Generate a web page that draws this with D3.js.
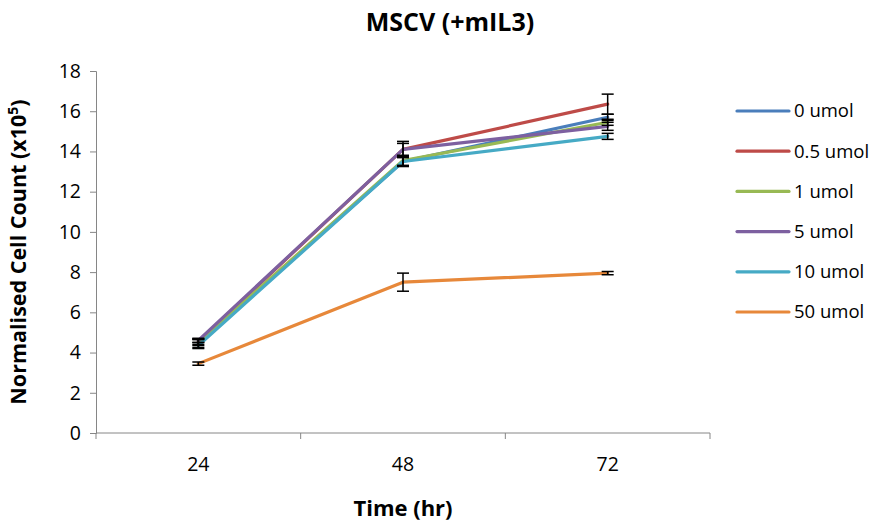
<!DOCTYPE html>
<html><head><meta charset="utf-8">
<script src="https://cdn.jsdelivr.net/npm/d3@7"></script>
<style>body{margin:0;background:#fff}text{font-family:"Open Sans","Liberation Sans",sans-serif}</style>
</head><body><svg id="c" width="894" height="527"></svg>
<script>
const categories = ["24", "48", "72"];
const seriesNames = ["0 umol", "0.5 umol", "1 umol", "5 umol", "10 umol", "50 umol"];
const values0 = [4.45, 13.5, 15.7];
const values05 = [4.55, 14.1, 16.35];
const values1 = [4.5, 13.55, 15.45];
const values5 = [4.6, 14.1, 15.25];
const values10 = [4.35, 13.5, 14.75];
const values50 = [3.45, 7.5, 7.95];
const errors0 = [0.2, 0.2, 0.15];
const errors05 = [0.15, 0.4, 0.5];
const errors1 = [0.15, 0.25, 0.15];
const errors5 = [0.1, 0.3, 0.2];
const errors10 = [0.15, 0.25, 0.15];
const errors50 = [0.08, 0.45, 0.08];
const yTicks = [0, 2, 4, 6, 8, 10, 12, 14, 16, 18];
const colors = ["#4A7EBB", "#BE4B48", "#98B954", "#7D60A0", "#46AAC5", "#E7883A"];

const series = seriesNames.map((n, i) => ({
  name: n,
  values: [values0, values05, values1, values5, values10, values50][i],
  errors: [errors0, errors05, errors1, errors5, errors10, errors50][i],
  color: colors[i]
}));

const svg = d3.select("#c");
const L = 96, R = 710, T = 71, B = 433;
const x = d3.scaleBand().domain(categories).range([L, R]);
const y = d3.scaleLinear().domain([0, 18]).range([B, T]);
const axisColor = "#868686";

// y axis
const ya = svg.append("g").attr("transform", `translate(${L},0)`)
  .call(d3.axisLeft(y).tickValues(yTicks).tickSize(6).tickPadding(9));
ya.select(".domain").attr("stroke", axisColor);
ya.selectAll(".tick line").attr("stroke", axisColor);
ya.selectAll(".tick text").attr("font-size", 19.5).attr("fill", "#000");

// x axis
const xa = svg.append("g").attr("transform", `translate(0,${B})`)
  .call(d3.axisBottom(x).tickSize(0).tickPadding(24));
xa.select(".domain").attr("stroke", axisColor).attr("d", `M${L},0H${R}`);
xa.selectAll(".tick text").attr("font-size", 19.5).attr("fill", "#000");
const bounds = categories.map(c => x(c)).concat([R]);
xa.selectAll(".bnd").data(bounds).enter().append("line")
  .attr("x1", d => d).attr("x2", d => d).attr("y1", 0).attr("y2", 6).attr("stroke", axisColor);

// lines
const line = d3.line().x((d, i) => x(categories[i]) + x.bandwidth() / 2).y(d => y(d));
series.forEach(s => {
  svg.append("path").attr("d", line(s.values)).attr("fill", "none")
    .attr("stroke", s.color).attr("stroke-width", 3.2).attr("stroke-linejoin", "round").attr("stroke-linecap", "round");
});
// error bars
series.forEach(s => {
  const g = svg.append("g").attr("stroke", "#000").attr("stroke-width", 1.5);
  s.values.forEach((v, i) => {
    const cx = x(categories[i]) + x.bandwidth() / 2;
    const e = s.errors[i];
    g.append("line").attr("x1", cx).attr("x2", cx).attr("y1", y(v + e)).attr("y2", y(v - e));
    [v + e, v - e].forEach(w => g.append("line").attr("x1", cx - 6).attr("x2", cx + 6).attr("y1", y(w)).attr("y2", y(w)));
  });
});

// legend
series.forEach((s, i) => {
  const ly = 111 + i * 40.2;
  svg.append("line").attr("x1", 737).attr("x2", 789).attr("y1", ly).attr("y2", ly)
    .attr("stroke", s.color).attr("stroke-width", 3.2).attr("stroke-linecap", "round");
  svg.append("text").attr("x", 794).attr("y", ly).attr("dy", "0.35em").attr("font-size", 18.5).text(s.name);
});

// titles
svg.append("text").attr("x", 450).attr("y", 31).attr("text-anchor", "middle")
  .attr("font-size", 25).attr("font-weight", "bold").text("MSCV (+mIL3)");
svg.append("text").attr("x", 403).attr("y", 516).attr("text-anchor", "middle")
  .attr("font-size", 22).attr("font-weight", "bold").text("Time (hr)");
const yt = svg.append("text").attr("transform", "translate(26,252) rotate(-90)").attr("text-anchor", "middle")
  .attr("font-size", 21.5).attr("font-weight", "bold");
yt.append("tspan").text("Normalised Cell Count (x10");
yt.append("tspan").attr("font-size", 14).attr("dy", -8).text("5");
yt.append("tspan").attr("dy", 8).text(")");
</script></body></html>
